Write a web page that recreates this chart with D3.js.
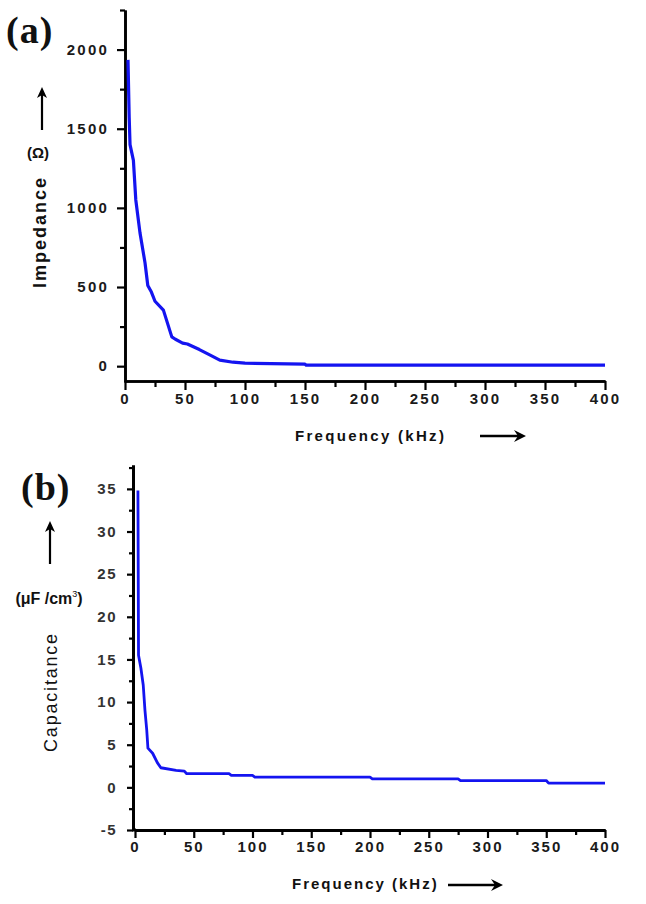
<!DOCTYPE html>
<html>
<head>
<meta charset="utf-8">
<script src="https://cdn.jsdelivr.net/npm/d3@7"></script>
<style>
  html, body { margin: 0; padding: 0; background: #fff; }
  svg { display: block; }
</style>
</head>
<body>
<svg id="chart" width="646" height="904"></svg>
<script>
// ---- Data ----
const impFreq = [2.5, 3.5, 4.2, 7, 9, 12.5, 16.7, 19, 22, 25, 32, 39, 42, 48, 52, 62, 71, 79, 90, 100, 150, 151, 400];
const impVal  = [1935, 1570, 1400, 1300, 1050, 842, 652, 510, 468, 410, 354, 185, 170, 146, 140, 105, 70, 38, 25, 19, 13, 6, 6];

const capFreq = [2.5, 3, 5, 7, 8.5, 10, 11, 15, 19, 22, 35, 42, 44, 80, 82, 100, 102, 200, 202, 275, 277, 350, 352, 400];
const capVal  = [34.8, 15.5, 14, 12, 9, 6.7, 4.6, 4.0, 2.9, 2.3, 2.0, 1.9, 1.6, 1.6, 1.4, 1.4, 1.2, 1.2, 1.0, 1.0, 0.8, 0.8, 0.5, 0.5];

const freqTicks  = [0, 50, 100, 150, 200, 250, 300, 350, 400];
const freqMinor  = [25, 75, 125, 175, 225, 275, 325, 375];
const impTicks   = [0, 500, 1000, 1500, 2000];
const impMinor   = [250, 750, 1250, 1750, 2250];
const capTicks   = [-5, 0, 5, 10, 15, 20, 25, 30, 35];
const capMinor   = [-2.5, 2.5, 7.5, 12.5, 17.5, 22.5, 27.5, 32.5, 37.5];

const SANS = '"Liberation Sans", Arial, sans-serif';
const SERIF = '"Liberation Serif", "Times New Roman", serif';
const fmt = d => String(d);

const svg = d3.select("#chart").style("font-family", SANS);
const BLUE = "#1414f0";

function arrowUp(x, y1, y2) {
  svg.append("line").attr("x1", x).attr("x2", x).attr("y1", y1).attr("y2", y2 + 8)
    .attr("stroke", "#000").attr("stroke-width", 2.2);
  svg.append("path").attr("d", `M${x},${y2} L${x-5},${y2+11} L${x},${y2+8} L${x+5},${y2+11} Z`).attr("fill", "#000");
}
function arrowRight(x1, x2, y) {
  svg.append("line").attr("x1", x1).attr("x2", x2 - 8).attr("y1", y).attr("y2", y)
    .attr("stroke", "#000").attr("stroke-width", 2.6);
  svg.append("path").attr("d", `M${x2},${y} L${x2-12},${y-6} L${x2-8},${y} L${x2-12},${y+6} Z`).attr("fill", "#000");
}

function styleAxis(g, w) {
  g.select(".domain").attr("stroke", "#000").attr("stroke-width", w);
  g.selectAll(".tick line").attr("stroke", "#000").attr("stroke-width", 2.2);
  g.selectAll("text").style("font-family", SANS);
}

// ================= Panel (a) =================
{
  const x = d3.scaleLinear().domain([0, 400]).range([125, 605]);
  const y = d3.scaleLinear().domain([-100, 2250]).range([382, 10]);

  const gyMin = svg.append("g").attr("transform", "translate(125,0)")
    .call(d3.axisLeft(y).tickValues(impMinor).tickSize(5).tickSizeOuter(0).tickFormat(""));
  styleAxis(gyMin, 2.6);
  const gy = svg.append("g").attr("transform", "translate(125,0)")
    .call(d3.axisLeft(y).tickValues(impTicks).tickFormat(fmt).tickSize(8).tickSizeOuter(0).tickPadding(8));
  styleAxis(gy, 2.6);
  gy.selectAll("text").attr("font-size", 15).attr("font-weight", "bold").attr("letter-spacing", "2.2px").attr("fill", "#1a1a1a");

  const gxMin = svg.append("g").attr("transform", "translate(0,381)")
    .call(d3.axisBottom(x).tickValues(freqMinor).tickSize(6).tickSizeOuter(0).tickFormat(""));
  styleAxis(gxMin, 2.6);
  const gx = svg.append("g").attr("transform", "translate(0,381)")
    .call(d3.axisBottom(x).tickValues(freqTicks).tickFormat(fmt).tickSize(9).tickSizeOuter(0).tickPadding(3));
  styleAxis(gx, 2.6);
  gx.selectAll("text").attr("font-size", 15).attr("font-weight", "bold").attr("letter-spacing", "2.2px").attr("fill", "#1a1a1a");

  const line = d3.line().x((d, i) => x(impFreq[i])).y((d, i) => y(impVal[i]));
  svg.append("path").datum(impVal).attr("d", line)
    .attr("fill", "none").attr("stroke", BLUE).attr("stroke-width", 3.2).attr("stroke-linejoin", "round");

  svg.append("text").attr("x", 6).attr("y", 43).text("(a)")
    .style("font-family", SERIF).attr("font-weight", "bold")
    .attr("font-size", 38).attr("letter-spacing", "1px").attr("fill", "#111");

  arrowUp(42, 130, 87);
  svg.append("text").attr("x", 38).attr("y", 158).attr("text-anchor", "middle").text("(Ω)")
    .attr("font-size", 15).attr("font-weight", "bold").attr("fill", "#111");

  svg.append("text").attr("transform", "translate(46,232) rotate(-90)").attr("text-anchor", "middle")
    .text("Impedance").attr("font-size", 18).attr("font-weight", "bold").attr("letter-spacing", "2px").attr("fill", "#111");

  svg.append("text").attr("x", 295).attr("y", 441).text("Frequency (kHz)")
    .attr("font-size", 15).attr("font-weight", "bold").attr("letter-spacing", "2.3px").attr("fill", "#111");
  arrowRight(480, 526, 436);
}

// ================= Panel (b) =================
{
  const x = d3.scaleLinear().domain([0, 400]).range([135, 605]);
  const y = d3.scaleLinear().domain([-5, 37.8]).range([830, 465]);

  const gyMin = svg.append("g").attr("transform", "translate(133,0)")
    .call(d3.axisLeft(y).tickValues(capMinor).tickSize(4).tickSizeOuter(0).tickFormat(""));
  styleAxis(gyMin, 3);
  const gy = svg.append("g").attr("transform", "translate(133,0)")
    .call(d3.axisLeft(y).tickValues(capTicks).tickFormat(fmt).tickSize(6).tickSizeOuter(0).tickPadding(10));
  styleAxis(gy, 3);
  gy.selectAll("text").attr("font-size", 15).attr("font-weight", "bold").attr("letter-spacing", "1.5px").attr("fill", "#333");

  const gxMin = svg.append("g").attr("transform", "translate(0,830)")
    .call(d3.axisBottom(x).tickValues(freqMinor).tickSize(5).tickSizeOuter(0).tickFormat(""));
  styleAxis(gxMin, 3);
  const gx = svg.append("g").attr("transform", "translate(0,830)")
    .call(d3.axisBottom(x).tickValues(freqTicks).tickFormat(fmt).tickSize(8).tickSizeOuter(0).tickPadding(3));
  styleAxis(gx, 3);
  gx.selectAll("text").attr("font-size", 15).attr("font-weight", "bold").attr("letter-spacing", "2px").attr("fill", "#1a1a1a");
  svg.append("line").attr("x1", 132).attr("x2", 136).attr("y1", 830).attr("y2", 830)
    .attr("stroke", "#000").attr("stroke-width", 3);

  const line = d3.line().x((d, i) => x(capFreq[i])).y((d, i) => y(capVal[i]));
  svg.append("path").datum(capVal).attr("d", line)
    .attr("fill", "none").attr("stroke", BLUE).attr("stroke-width", 2.8).attr("stroke-linejoin", "round");

  svg.append("text").attr("x", 21).attr("y", 500).text("(b)")
    .style("font-family", SERIF).attr("font-weight", "bold")
    .attr("font-size", 38).attr("letter-spacing", "1px").attr("fill", "#111");

  arrowUp(50, 564, 521);
  const t = svg.append("text").attr("x", 49).attr("y", 604).attr("text-anchor", "middle")
    .attr("font-size", 16).attr("fill", "#111");
  t.append("tspan").text("(μF /cm").attr("font-weight", "bold");
  t.append("tspan").text("3").attr("font-size", 9).attr("dy", -7);
  t.append("tspan").text(")").attr("dy", 7).attr("font-weight", "bold");

  svg.append("text").attr("transform", "translate(57,692) rotate(-90)").attr("text-anchor", "middle")
    .text("Capacitance").attr("font-size", 18).attr("letter-spacing", "1.8px").attr("fill", "#111");

  svg.append("text").attr("x", 292).attr("y", 889).text("Frequency (kHz)")
    .attr("font-size", 15).attr("font-weight", "bold").attr("letter-spacing", "2px").attr("fill", "#111");
  arrowRight(448, 503, 885);
}
</script>
</body>
</html>
